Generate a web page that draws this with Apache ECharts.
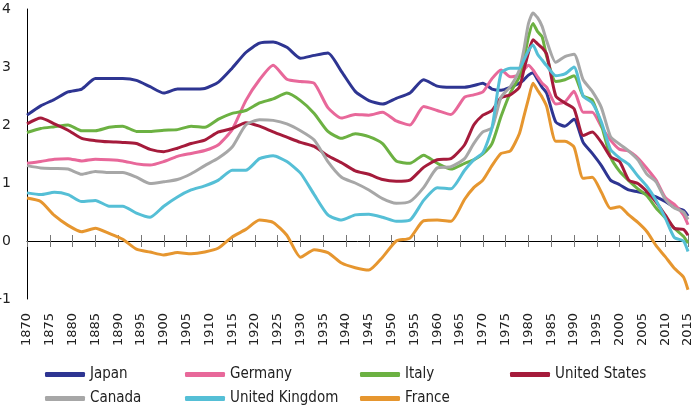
<!DOCTYPE html>
<html>
<head>
<meta charset="utf-8">
<script src="https://cdn.jsdelivr.net/npm/echarts@6/dist/echarts.min.js"></script>
<style>
  html, body { margin: 0; padding: 0; background: #fff; }
  #chart { width: 699px; height: 420px; }
</style>
</head>
<body>
<div id="chart"></div>
<script>
// sample years (denser around the early-80s peak)
const years = [1870, 1873, 1876, 1879, 1882, 1885, 1888, 1891, 1894, 1897,
  1900, 1903, 1906, 1909, 1912, 1915, 1918, 1921, 1924, 1927,
  1930, 1933, 1936, 1939, 1942, 1945, 1948, 1951, 1954, 1957,
  1960, 1963, 1966, 1968, 1970, 1972, 1974, 1976, 1978, 1979,
  1980, 1981, 1982, 1983, 1984, 1986, 1988, 1990, 1992, 1994,
  1996, 1998, 2000, 2002, 2004, 2006, 2008, 2010, 2012, 2014, 2015];

const japan = [2.17, 2.33, 2.44, 2.57, 2.62, 2.80, 2.80, 2.80, 2.77, 2.66,
  2.55, 2.62, 2.62, 2.63, 2.74, 2.98, 3.25, 3.41, 3.43, 3.34,
  3.15, 3.20, 3.24, 2.92, 2.58, 2.42, 2.36, 2.46, 2.55, 2.78,
  2.67, 2.65, 2.65, 2.68, 2.72, 2.62, 2.60, 2.65, 2.72, 2.78,
  2.86, 2.90, 2.78, 2.65, 2.55, 2.05, 1.98, 2.10, 1.70, 1.51,
  1.30, 1.05, 0.97, 0.88, 0.85, 0.81, 0.76, 0.68, 0.58, 0.53, 0.43];

const germany = [1.34, 1.37, 1.41, 1.42, 1.38, 1.41, 1.40, 1.38, 1.33, 1.31,
  1.37, 1.46, 1.51, 1.56, 1.66, 1.92, 2.42, 2.78, 3.03, 2.79,
  2.75, 2.72, 2.30, 2.12, 2.18, 2.17, 2.22, 2.07, 2.00, 2.32,
  2.25, 2.18, 2.48, 2.52, 2.57, 2.80, 2.95, 2.83, 2.86, 2.95,
  3.03, 2.95, 2.83, 2.72, 2.65, 2.36, 2.40, 2.58, 2.22, 2.22,
  1.97, 1.74, 1.58, 1.55, 1.43, 1.25, 1.05, 0.75, 0.63, 0.45, 0.28];

const italy = [1.87, 1.94, 1.97, 2.00, 1.90, 1.90, 1.96, 1.98, 1.89, 1.89,
  1.91, 1.92, 1.98, 1.96, 2.10, 2.20, 2.25, 2.38, 2.45, 2.55,
  2.42, 2.20, 1.89, 1.77, 1.85, 1.80, 1.68, 1.38, 1.34, 1.48,
  1.34, 1.24, 1.34, 1.40, 1.50, 1.68, 2.15, 2.55, 2.83, 3.12,
  3.52, 3.75, 3.61, 3.52, 3.18, 2.75, 2.78, 2.85, 2.50, 2.43,
  2.00, 1.45, 1.20, 1.04, 0.90, 0.78, 0.57, 0.40, 0.22, 0.08, -0.04];

const unitedStates = [2.02, 2.12, 2.02, 1.91, 1.77, 1.73, 1.71, 1.70, 1.68, 1.58,
  1.54, 1.60, 1.68, 1.74, 1.88, 1.94, 2.04, 1.98, 1.88, 1.79,
  1.70, 1.63, 1.47, 1.35, 1.21, 1.15, 1.06, 1.03, 1.05, 1.27,
  1.40, 1.42, 1.66, 2.00, 2.17, 2.25, 2.47, 2.52, 2.65, 2.95,
  3.25, 3.47, 3.40, 3.33, 3.22, 2.50, 2.38, 2.28, 1.82, 1.88,
  1.70, 1.45, 1.37, 1.05, 0.99, 0.85, 0.67, 0.45, 0.22, 0.20, 0.10];

const canada = [1.30, 1.26, 1.25, 1.24, 1.15, 1.20, 1.18, 1.18, 1.10, 0.99,
  1.02, 1.06, 1.16, 1.30, 1.43, 1.62, 2.00, 2.09, 2.08, 2.02,
  1.90, 1.74, 1.37, 1.10, 1.00, 0.88, 0.73, 0.65, 0.68, 0.92,
  1.26, 1.28, 1.42, 1.68, 1.88, 1.95, 2.48, 2.66, 2.95, 3.30,
  3.75, 3.93, 3.85, 3.70, 3.45, 3.08, 3.18, 3.22, 2.78, 2.58,
  2.30, 1.80, 1.67, 1.55, 1.40, 1.15, 1.02, 0.72, 0.57, 0.50, 0.37];

const unitedKingdom = [0.83, 0.80, 0.84, 0.80, 0.68, 0.70, 0.60, 0.60, 0.48, 0.41,
  0.60, 0.76, 0.88, 0.95, 1.05, 1.22, 1.22, 1.42, 1.47, 1.37,
  1.17, 0.80, 0.45, 0.36, 0.45, 0.46, 0.41, 0.34, 0.36, 0.70,
  0.92, 0.90, 1.22, 1.40, 1.52, 1.95, 2.90, 2.98, 2.98, 3.12,
  3.28, 3.38, 3.22, 3.12, 3.02, 2.85, 2.88, 3.00, 2.50, 2.38,
  2.05, 1.58, 1.43, 1.32, 1.12, 0.94, 0.70, 0.40, 0.06, 0.00, -0.18];

const france = [0.74, 0.68, 0.44, 0.27, 0.16, 0.22, 0.13, 0.03, -0.14, -0.19,
  -0.24, -0.20, -0.22, -0.19, -0.12, 0.07, 0.20, 0.36, 0.32, 0.10,
  -0.28, -0.15, -0.20, -0.38, -0.46, -0.50, -0.28, 0.00, 0.05, 0.35,
  0.36, 0.34, 0.72, 0.92, 1.05, 1.30, 1.51, 1.55, 1.85, 2.15,
  2.45, 2.72, 2.60, 2.48, 2.32, 1.72, 1.72, 1.62, 1.08, 1.10,
  0.84, 0.56, 0.59, 0.45, 0.32, 0.16, -0.08, -0.27, -0.47, -0.62, -0.84];

const names = ['Japan', 'Germany', 'Italy', 'United States', 'Canada', 'United Kingdom', 'France'];
const values = [japan, germany, italy, unitedStates, canada, unitedKingdom, france];
const colors = ['#2e3592', '#e8689a', '#6cb142', '#a51b3b', '#a7a7a7', '#55bfd6', '#e6962f'];

const chart = echarts.init(document.getElementById('chart'));

// plot area: y=4 at 9px, y=-1 at 299px, so zero sits at 241px
const plotTop = 9, plotBottom = 299, zeroY = 241;

const legendBase = {
  orient: 'vertical',
  top: 367,
  itemWidth: 40,
  itemHeight: 5,
  itemGap: 9,
  icon: 'roundRect',
  padding: 0,
  textStyle: { fontFamily: 'DejaVu Sans Condensed, sans-serif', fontSize: 15, color: '#222' }
};

const option = {
  animation: false,
  color: colors,
  grid: [
    { left: 27, right: 11, top: plotTop, bottom: 420 - plotBottom, outerBoundsMode: 'none', containLabel: false },
    // thin strip above the zero line: its bottom edge is the zero line, split lines are the upper half of the ticks
    { left: 27, right: 11, top: zeroY - 6, height: 6, outerBoundsMode: 'none', containLabel: false }
  ],
  xAxis: [
    {
      gridIndex: 0, type: 'value', min: 1870, max: 2015, interval: 5,
      position: 'bottom',
      axisLine: { show: false, onZero: false },
      axisTick: { show: false },
      splitLine: { show: false },
      axisLabel: {
        rotate: 90, margin: 14, fontSize: 13, color: '#222',
        fontFamily: 'DejaVu Sans', showMinLabel: true, showMaxLabel: true,
        formatter: v => String(v)
      }
    },
    {
      gridIndex: 1, type: 'value', min: 1870, max: 2015, interval: 5,
      position: 'bottom',
      axisLine: { show: true, onZero: false, lineStyle: { color: '#000', width: 1 } },
      axisTick: { show: true, length: 6, lineStyle: { color: '#777' } },
      splitLine: { show: true, lineStyle: { color: '#777', width: 1 } },
      axisLabel: { show: false }
    }
  ],
  yAxis: [
    {
      gridIndex: 0, type: 'value', min: -1, max: 4, interval: 1,
      axisLine: { show: true, onZero: false, lineStyle: { color: '#000' } },
      axisTick: { show: false },
      splitLine: { show: false },
      axisLabel: { fontSize: 14, color: '#222', margin: 16, fontFamily: 'DejaVu Sans' }
    },
    { gridIndex: 1, type: 'value', min: 0, max: 1, show: false, splitLine: { show: false } }
  ],
  legend: [
    Object.assign({}, legendBase, { left: 45, data: ['Japan', 'Canada'] }),
    Object.assign({}, legendBase, { left: 185, data: ['Germany', 'United Kingdom'] }),
    Object.assign({}, legendBase, { left: 360, data: ['Italy', 'France'] }),
    Object.assign({}, legendBase, { left: 510, data: ['United States'] })
  ],
  series: names.map((name, i) => ({
    name: name,
    type: 'line',
    xAxisIndex: 0,
    yAxisIndex: 0,
    showSymbol: false,
    smooth: 0.2,
    z: 3 + i,
    lineStyle: { width: 3, color: colors[i] },
    itemStyle: { color: colors[i] },
    data: years.map((y, k) => [y, values[i][k]])
  }))
};

chart.setOption(option);
</script>
</body>
</html>
